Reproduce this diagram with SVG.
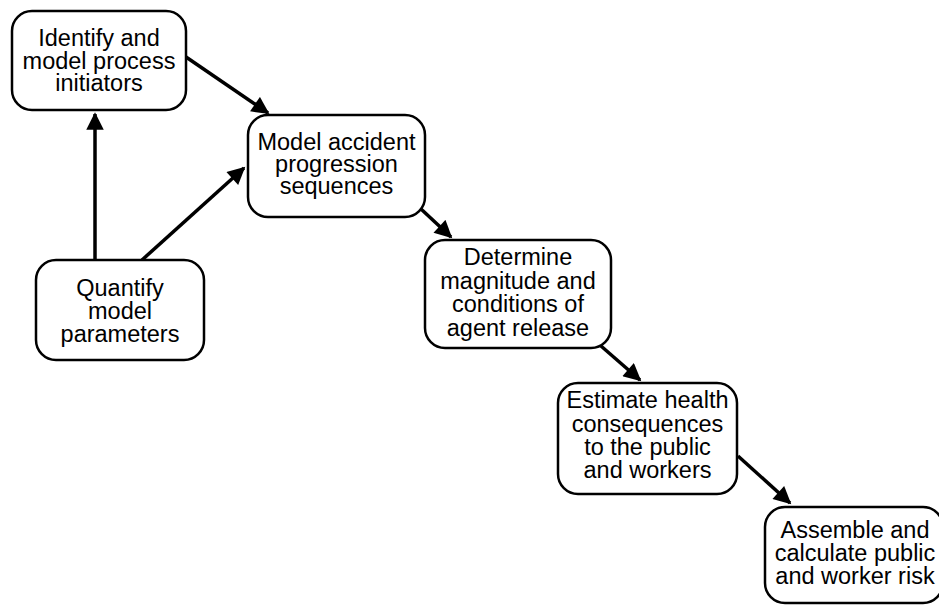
<svg xmlns="http://www.w3.org/2000/svg" width="939" height="605" viewBox="0 0 939 605">
<defs>
<style>
.box{fill:#fff;stroke:#000;stroke-width:2.5}
.t{font-family:"Liberation Sans",Arial,Helvetica,sans-serif;font-size:23.5px;fill:#000;text-anchor:middle}
.c{stroke:#000;stroke-width:3.5;fill:none;marker-end:url(#ah)}
</style>
<marker id="ah" viewBox="0 0 10 10" refX="9" refY="5" markerWidth="5.5" markerHeight="5" markerUnits="strokeWidth" orient="auto">
<path d="M0,0 L10,5 L0,10 z" fill="#000"/>
</marker>
</defs>
<g id="connectors">
<line class="c" x1="186" y1="57" x2="268" y2="113"/>
<line class="c" x1="95" y1="260" x2="95" y2="114"/>
<line class="c" x1="142" y1="260" x2="244" y2="168"/>
<line class="c" x1="421" y1="209" x2="451" y2="237"/>
<line class="c" x1="601" y1="346" x2="640" y2="380"/>
<line class="c" x1="738" y1="456" x2="790" y2="503"/>
</g>
<g id="n1">
<rect class="box" x="12" y="11" width="174" height="99" rx="20"/>
<text class="t" x="99" y="46">Identify and</text>
<text class="t" x="99" y="68.5">model process</text>
<text class="t" x="99" y="91">initiators</text>
</g>
<g id="n2">
<rect class="box" x="248" y="115" width="177" height="102" rx="20"/>
<text class="t" x="336.5" y="150">Model accident</text>
<text class="t" x="336.5" y="172">progression</text>
<text class="t" x="336.5" y="194">sequences</text>
</g>
<g id="n3">
<rect class="box" x="36" y="260" width="168" height="100" rx="20"/>
<text class="t" x="120" y="296">Quantify</text>
<text class="t" x="120" y="319">model</text>
<text class="t" x="120" y="342">parameters</text>
</g>
<g id="n4">
<rect class="box" x="425" y="240" width="186" height="108" rx="20"/>
<text class="t" x="518" y="265">Determine</text>
<text class="t" x="518" y="289">magnitude and</text>
<text class="t" x="518" y="312">conditions of</text>
<text class="t" x="518" y="336">agent release</text>
</g>
<g id="n5">
<rect class="box" x="558" y="383" width="179" height="111" rx="20"/>
<text class="t" x="647.5" y="408">Estimate health</text>
<text class="t" x="647.5" y="432">consequences</text>
<text class="t" x="647.5" y="455">to the public</text>
<text class="t" x="647.5" y="478">and workers</text>
</g>
<g id="n6">
<rect class="box" x="765" y="507" width="178" height="96" rx="20"/>
<text class="t" x="855" y="538">Assemble and</text>
<text class="t" x="855" y="561">calculate public</text>
<text class="t" x="855" y="584">and worker risk</text>
</g>
</svg>
